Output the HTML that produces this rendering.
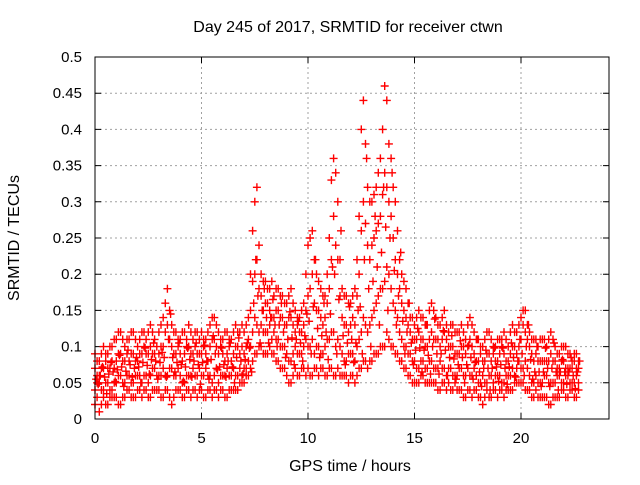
<!DOCTYPE html>
<html><head><meta charset="utf-8"><style>
body{margin:0;background:#fff;}
svg text{font-family:"Liberation Sans",sans-serif;font-size:15px;fill:#000;}
</style></head><body>
<svg id="chart" width="640" height="480" xmlns="http://www.w3.org/2000/svg">
<rect width="640" height="480" fill="#fff"/>
<g id="grid"></g>
<g id="pts"></g>
<rect x="95" y="57" width="514" height="362" fill="none" stroke="#000" stroke-width="1"/>
<g id="ticks"></g>
<text x="348" y="32" text-anchor="middle" style="font-size:16px">Day 245 of 2017, SRMTID for receiver ctwn</text>
<text x="350" y="471" text-anchor="middle" style="font-size:16px">GPS time / hours</text>
<text x="0" y="0" text-anchor="middle" transform="translate(19,238) rotate(-90)" style="font-size:16px">SRMTID / TECUs</text>
</svg>
<script>
const xTicks=[0,5,10,15,20];
const yTicks=[0,0.05,0.1,0.15,0.2,0.25,0.3,0.35,0.4,0.45,0.5];
const yTickLabels=["0","0.05","0.1","0.15","0.2","0.25","0.3","0.35","0.4","0.45","0.5"];
const timeStep=0.2;
const hiVals=[.09,.08,.10,.09,.10,.11,.12,.10,.11,.12,.10,.12,.11,.13,.11,.12,.14,.18,.13,.12,.11,.12,.13,.11,.12,.12,.11,.13,.14,.12,.11,.12,.11,.13,.12,.12,.14,.26,.32,.20,.19,.18,.17,.18,.17,.16,.18,.15,.14,.16,.24,.26,.20,.18,.17,.25,.36,.30,.18,.17,.16,.18,.28,.44,.32,.30,.32,.36,.46,.38,.32,.26,.20,.18,.14,.13,.15,.14,.13,.16,.14,.13,.15,.12,.13,.12,.13,.11,.14,.12,.11,.10,.12,.11,.10,.11,.12,.10,.13,.12,.14,.15,.12,.11,.10,.11,.10,.12,.10,.09,.10,.09,.08,.09];
const upperMidVals=[.07,.06,.07,.07,.08,.08,.09,.08,.08,.09,.08,.09,.09,.10,.09,.09,.10,.13,.10,.09,.09,.09,.10,.09,.09,.09,.09,.10,.11,.09,.09,.09,.08,.10,.09,.09,.11,.19,.22,.17,.16,.15,.14,.15,.14,.13,.14,.12,.12,.13,.17,.20,.15,.14,.14,.18,.28,.22,.14,.13,.13,.13,.20,.30,.24,.24,.26,.28,.34,.30,.25,.20,.16,.14,.12,.11,.12,.11,.10,.12,.11,.10,.12,.10,.10,.09,.10,.09,.11,.09,.08,.08,.09,.08,.08,.09,.09,.08,.10,.09,.11,.12,.10,.08,.08,.08,.08,.09,.08,.07,.08,.07,.07,.07];
const lowerMidVals=[.04,.05,.04,.05,.04,.05,.06,.05,.06,.05,.06,.05,.06,.06,.07,.06,.07,.06,.07,.06,.06,.05,.06,.07,.06,.06,.07,.06,.06,.05,.06,.07,.06,.06,.07,.07,.08,.12,.13,.13,.12,.13,.12,.11,.10,.09,.08,.10,.09,.10,.10,.11,.10,.09,.10,.11,.12,.11,.09,.08,.09,.08,.11,.14,.12,.14,.16,.18,.19,.20,.16,.14,.11,.10,.09,.08,.07,.08,.07,.08,.07,.08,.07,.07,.06,.06,.07,.06,.06,.07,.05,.06,.05,.06,.06,.06,.05,.06,.07,.07,.07,.08,.06,.05,.05,.05,.06,.05,.05,.06,.05,.06,.05,.06];
const loVals=[.02,.01,.03,.02,.03,.03,.02,.03,.04,.03,.04,.03,.04,.03,.04,.04,.03,.04,.02,.04,.04,.03,.04,.04,.03,.04,.03,.04,.04,.03,.04,.03,.04,.04,.05,.05,.06,.08,.09,.10,.09,.10,.09,.08,.07,.06,.05,.07,.06,.07,.07,.06,.07,.07,.06,.07,.06,.07,.06,.06,.06,.05,.07,.08,.07,.08,.09,.10,.10,.11,.10,.09,.08,.07,.06,.05,.05,.06,.05,.05,.05,.04,.05,.05,.04,.04,.04,.03,.04,.04,.03,.02,.04,.03,.04,.04,.03,.04,.04,.05,.05,.04,.04,.03,.03,.03,.03,.02,.03,.03,.04,.03,.04,.03];
const hiValsB=[.08,.09,.09,.10,.11,.12,.11,.11,.12,.11,.11,.12,.12,.12,.10,.13,.16,.15,.12,.11,.12,.11,.12,.12,.11,.11,.12,.14,.13,.11,.12,.11,.12,.12,.13,.13,.20,.30,.24,.19,.18,.19,.18,.17,.16,.17,.16,.14,.15,.20,.25,.22,.19,.17,.20,.33,.34,.22,.17,.16,.17,.22,.40,.38,.30,.31,.34,.40,.44,.36,.30,.22,.19,.16,.14,.14,.14,.13,.15,.15,.13,.14,.13,.13,.12,.12,.12,.13,.13,.11,.10,.11,.12,.10,.11,.11,.11,.12,.12,.13,.15,.13,.11,.11,.11,.11,.11,.11,.09,.10,.10,.09,.09,.08];
const upperMidValsB=[.06,.07,.08,.07,.07,.09,.08,.09,.09,.08,.09,.10,.09,.09,.10,.10,.12,.11,.09,.10,.08,.10,.09,.10,.09,.10,.08,.11,.10,.10,.08,.10,.09,.10,.10,.10,.15,.20,.18,.15,.16,.14,.15,.14,.13,.14,.13,.13,.12,.15,.18,.16,.15,.13,.16,.22,.24,.17,.13,.12,.14,.17,.26,.27,.22,.25,.27,.31,.32,.28,.22,.18,.15,.13,.11,.11,.11,.10,.11,.11,.11,.11,.11,.10,.09,.09,.10,.10,.10,.08,.09,.08,.09,.09,.08,.10,.08,.09,.10,.10,.13,.11,.09,.09,.08,.08,.08,.08,.07,.08,.07,.07,.08,.07];
const lowerMidValsB=[.05,.04,.05,.04,.05,.06,.05,.06,.05,.06,.06,.06,.05,.07,.06,.06,.06,.07,.06,.07,.05,.06,.06,.06,.07,.06,.06,.05,.07,.06,.06,.06,.07,.06,.06,.07,.10,.14,.12,.12,.12,.11,.11,.10,.10,.08,.09,.09,.09,.11,.10,.09,.10,.09,.11,.12,.10,.10,.08,.09,.09,.10,.12,.13,.13,.15,.17,.18,.21,.18,.15,.12,.10,.09,.08,.07,.08,.07,.08,.07,.07,.07,.06,.07,.06,.07,.06,.07,.06,.06,.05,.05,.06,.05,.06,.05,.06,.06,.06,.08,.07,.07,.05,.06,.05,.06,.05,.05,.06,.05,.06,.05,.05,.05];
const loValsB=[.03,.02,.02,.03,.03,.02,.03,.04,.03,.03,.04,.04,.03,.04,.04,.03,.04,.03,.03,.04,.03,.04,.03,.04,.04,.03,.04,.03,.04,.04,.03,.04,.04,.04,.05,.06,.07,.09,.10,.09,.09,.09,.08,.07,.07,.05,.06,.06,.07,.06,.06,.07,.06,.07,.06,.07,.06,.06,.06,.05,.06,.06,.07,.08,.08,.09,.09,.10,.12,.10,.09,.08,.07,.06,.05,.05,.06,.05,.05,.05,.04,.05,.04,.04,.05,.04,.03,.04,.03,.04,.03,.03,.03,.04,.03,.04,.04,.04,.05,.05,.05,.04,.03,.04,.03,.03,.02,.03,.03,.04,.03,.04,.03,.04];
const midValsC=[.055,.06,.058,.062,.065,.068,.072,.066,.075,.07,.072,.078,.074,.082,.08,.078,.085,.11,.085,.078,.075,.072,.082,.08,.075,.078,.08,.082,.09,.072,.075,.08,.072,.085,.08,.082,.098,.16,.17,.15,.14,.14,.13,.13,.12,.11,.112,.11,.105,.115,.135,.155,.125,.115,.12,.145,.2,.165,.115,.105,.11,.105,.155,.22,.18,.19,.21,.23,.265,.25,.205,.17,.135,.12,.105,.095,.098,.095,.088,.1,.09,.09,.095,.085,.083,.075,.085,.075,.085,.078,.065,.07,.07,.07,.072,.075,.07,.072,.085,.08,.09,.1,.082,.065,.065,.065,.07,.07,.065,.065,.065,.065,.06,.065];
const midValsD=[.048,.072,.035,.078,.052,.088,.045,.095,.058,.085,.05,.098,.062,.105,.055,.092,.058,.145,.065,.105,.052,.098,.058,.105,.048,.102,.055,.115,.068,.098,.058,.105,.05,.112,.062,.105,.065,.22,.105,.18,.105,.165,.1,.16,.085,.148,.075,.135,.08,.145,.09,.22,.085,.16,.082,.21,.09,.26,.075,.155,.078,.15,.09,.36,.1,.28,.13,.32,.15,.34,.13,.23,.09,.16,.075,.125,.065,.13,.062,.138,.062,.122,.06,.115,.055,.108,.05,.102,.055,.11,.045,.095,.04,.098,.052,.098,.048,.105,.058,.11,.06,.13,.055,.1,.045,.098,.045,.105,.04,.082,.048,.085,.042,.08];
const NS="http://www.w3.org/2000/svg";
function xs(t){return 95+t*21.3;}
function ys(v){return 419-v*724;}
const grid=document.getElementById('grid'),ticks=document.getElementById('ticks'),pts=document.getElementById('pts');
xTicks.forEach(t=>{
  const x=xs(t);
  const l=document.createElementNS(NS,'line');
  
  
  l.setAttribute('x1',x);l.setAttribute('x2',x);l.setAttribute('y1',57);l.setAttribute('y2',419);
  l.setAttribute('stroke',t===0?'none':'#a0a0a0');l.setAttribute('stroke-dasharray','2,3');
  grid.appendChild(l);
  const tk=document.createElementNS(NS,'path');
  
  
  tk.setAttribute('d',`M${x},419v-6M${x},57v6`);tk.setAttribute('stroke','#000');
  grid.appendChild(tk);
  const tx=document.createElementNS(NS,'text');
  
  
  tx.setAttribute('x',x);tx.setAttribute('y',443);tx.setAttribute('text-anchor','middle');
  tx.textContent=String(t);ticks.appendChild(tx);
});
yTicks.forEach((v,i)=>{
  const y=ys(v);
  const l=document.createElementNS(NS,'line');
  
  
  l.setAttribute('x1',95);l.setAttribute('x2',609);l.setAttribute('y1',y);l.setAttribute('y2',y);
  l.setAttribute('stroke',(v===0||v===0.5)?'none':'#a0a0a0');l.setAttribute('stroke-dasharray','2,3');
  grid.appendChild(l);
  const tk=document.createElementNS(NS,'path');
  
  
  tk.setAttribute('d',`M95,${y}h6M609,${y}h-6`);tk.setAttribute('stroke','#000');
  grid.appendChild(tk);
  const tx=document.createElementNS(NS,'text');
  
  
  tx.setAttribute('x',82);tx.setAttribute('y',y+5);tx.setAttribute('text-anchor','end');
  tx.textContent=yTickLabels[i];ticks.appendChild(tx);
});
let d='';
function addSeries(arr,offset){
  arr.forEach((v,i)=>{
    const x=xs(i*timeStep+offset),y=ys(v);
    d+=`M${(x-4).toFixed(1)},${y.toFixed(1)}h8M${x.toFixed(1)},${(y-4).toFixed(1)}v8`;
  });
}
[loVals,lowerMidVals,upperMidVals,hiVals].forEach(a=>addSeries(a,0));
[loValsB,lowerMidValsB,upperMidValsB,hiValsB].forEach(a=>addSeries(a,timeStep/2));
addSeries(midValsC,timeStep/4);
addSeries(midValsD,timeStep*3/4);
const p=document.createElementNS(NS,'path');


p.setAttribute('d',d);p.setAttribute('stroke','#ff0000');p.setAttribute('stroke-width','1.4');p.setAttribute('fill','none');
pts.appendChild(p);
</script>
</body></html>
